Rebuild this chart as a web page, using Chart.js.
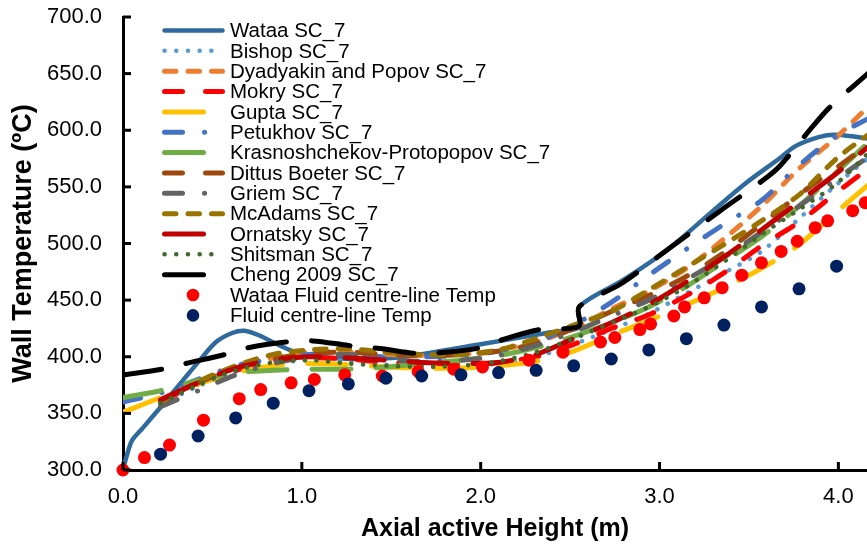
<!DOCTYPE html>
<html>
<head>
<meta charset="utf-8">
<script src="https://cdn.jsdelivr.net/npm/chart.js@4.4.1/dist/chart.umd.min.js"></script>
<style>
  html, body { margin:0; padding:0; background:#fff; }
  #wrap { width:867px; height:551px; }
</style>
</head>
<body>
<div id="wrap"><canvas id="chart" width="867" height="551"></canvas></div>
<script>
// axial nodes (m) used by the correlations
const nodes      = [0, 0.21, 0.42, 0.63, 0.84, 1.04, 1.26, 1.47, 1.67, 1.89, 2.10, 2.31, 2.52, 2.73, 2.94, 3.15, 3.36, 3.57, 3.78, 3.99, 4.20];
const bishop     = [null, 358, 374, 387, 394, 397, 396, 393, 392, 392, 394, 400, 411, 424, 438, 456, 474, 493, 522, 552, 580];
const dyadyakin  = [null, 362, 378, 390, 399, 404, 404, 402, 401, 402, 406, 413, 425, 442, 458, 478, 504, 533, 566, 594, 626];
const mokry      = [null, 360, 376, 388, 396, 399, 398, 395, 393, 393, 395, 400, 411, 425, 437, 454, 474, 498, 519, 545, 570];
const gupta      = [351, 364, 376, 386, 392, 394, 393, 391, 390, 390, 392, 396, 405, 419, 432, 446, 461, 478, 499, 528, 556];
const petukhov   = [360, 368, 380, 392, 398, 402, 402, 400, 400, 401, 405, 413, 428, 448, 472, 495, 517, 538, 569, 595, 613];
const krasno     = [364, 370, 379, 386, 388, 389, 389, 391, 394, 397, 401, 408, 418, 430, 444, 462, 484, 506, 533, 563, 594];
const dittus     = [null, 361, 377, 390, 398, 403, 404, 402, 401, 402, 405, 412, 425, 440, 454, 471, 492, 517, 543, 567, 591];
const griem      = [null, 356, 370, 384, 394, 400, 402, 398, 396, 397, 401, 410, 422, 436, 450, 468, 488, 510, 533, 557, 580];
const mcadams    = [null, 360, 378, 392, 402, 406, 407, 404, 402, 402, 406, 416, 428, 440, 459, 479, 499, 520, 543, 575, 600];
const ornatsky   = [null, 362, 377, 390, 397, 400, 399, 397, 395, 394, 395, 402, 416, 430, 446, 466, 488, 512, 537, 562, 590];
const shitsman   = [null, 359, 375, 388, 395, 397, 394, 392, 391, 392, 396, 404, 416, 430, 444, 462, 484, 508, 530, 553, 585];

// Wataa wall temperature and Cheng 2009 (own x positions, step at 2.55 m)
const wataaX = [0, 0.02, 0.05, 0.11, 0.24, 0.35, 0.43, 0.52, 0.61, 0.68, 0.76, 0.85, 0.95, 1.10, 1.30, 1.50, 1.66, 2.00, 2.37, 2.55, 2.55, 2.80, 3.04, 3.30, 3.48, 3.67, 3.76, 3.89, 3.99, 4.20];
const wataaY = [300, 312, 326, 337, 361, 382, 397, 413, 421, 423, 419, 412, 405, 400, 398, 399, 402, 411, 421, 426, 444, 468, 494, 529, 553, 575, 586, 594, 596, 592];
const chengX = [0, 0.22, 0.35, 0.57, 0.70, 0.91, 1.06, 1.26, 1.45, 1.64, 1.80, 2.00, 2.12, 2.33, 2.55, 2.55, 2.78, 3.04, 3.34, 3.58, 3.67, 3.86, 3.95, 4.20];
const chengY = [384, 389, 394, 402, 408, 413, 414, 410, 407, 403, 404, 408, 415, 424, 427, 444, 464, 494, 529, 556, 568, 604, 620, 655];

// fluid centre-line temperatures
const wataaFluidX = [0, 0.12, 0.26, 0.45, 0.65, 0.77, 0.94, 1.07, 1.24, 1.45, 1.65, 1.85, 2.01, 2.27, 2.46, 2.67, 2.75, 2.89, 2.95, 3.08, 3.14, 3.25, 3.35, 3.46, 3.57, 3.68, 3.77, 3.87, 3.94, 4.08, 4.15];
const wataaFluidY = [300, 311, 322, 344, 363, 371, 377, 380, 384, 383, 387, 389, 391, 397, 404, 413, 417, 424, 429, 436, 444, 452, 461, 472, 483, 493, 502, 514, 520, 529, 536];
const fluidX = [0.21, 0.42, 0.63, 0.84, 1.04, 1.26, 1.47, 1.67, 1.89, 2.10, 2.31, 2.52, 2.73, 2.94, 3.15, 3.36, 3.57, 3.78, 3.99];
const fluidY = [314, 330, 346, 359, 370, 376, 381, 383, 384, 386, 388, 392, 398, 406, 416, 428, 444, 460, 480];

const FONT = '"Liberation Sans", Arial, sans-serif';

const DOT = [0.1, 11.6], DASH = [11.5, 12], LONGGAP = [18, 23], DASHDOT = [18, 22, 0.1, 22], LONG = [39, 25];

function pts(xs, ys) {
  return xs.map((x, i) => ({ x, y: ys[i] })).filter(p => p.y !== null);
}
function lineSet(label, xs, ys, color, dash, width) {
  return {
    label, data: pts(xs, ys), showLine: true,
    borderColor: color, backgroundColor: color,
    borderWidth: width, borderDash: dash, borderCapStyle: 'round', borderJoinStyle: 'round',
    pointRadius: 0, pointHoverRadius: 0, tension: 0.3, fill: false
  };
}
function dotSet(label, xs, ys, color) {
  return {
    label, data: pts(xs, ys), showLine: false,
    backgroundColor: color, borderColor: color, borderWidth: 0,
    pointRadius: 6.5, pointHoverRadius: 6.5, clip: false
  };
}

const datasets = [
  lineSet('Wataa SC_7', wataaX, wataaY, '#2F6A9E', [], 4.5),
  lineSet('Bishop SC_7', nodes, bishop, '#5B9BD5', DOT, 4.5),
  lineSet('Dyadyakin and Popov SC_7', nodes, dyadyakin, '#ED7D31', DASH, 5),
  lineSet('Mokry SC_7', nodes, mokry, '#FF0000', LONGGAP, 5),
  lineSet('Gupta SC_7', nodes, gupta, '#FFC000', LONG, 5),
  lineSet('Petukhov SC_7', nodes, petukhov, '#4472C4', DASHDOT, 5),
  lineSet('Krasnoshchekov-Protopopov SC_7', nodes, krasno, '#70AD47', LONG, 5),
  lineSet('Dittus Boeter SC_7', nodes, dittus, '#9E480E', LONGGAP, 5),
  lineSet('Griem SC_7', nodes, griem, '#636363', DASHDOT, 5),
  lineSet('McAdams SC_7', nodes, mcadams, '#997300', DASH, 5),
  lineSet('Ornatsky SC_7', nodes, ornatsky, '#C00000', LONG, 5),
  lineSet('Shitsman SC_7', nodes, shitsman, '#43682B', DOT, 4.5),
  lineSet('Cheng 2009 SC_7', chengX, chengY, '#000000', LONG, 5),
  dotSet('Wataa Fluid centre-line Temp', wataaFluidX, wataaFluidY, '#FF0000'),
  dotSet('Fluid centre-line Temp', fluidX, fluidY, '#002060')
];
// later series drawn on top
datasets.forEach((d, i) => { d.order = datasets.length - i; });

// legend drawn inside the plot, Excel style
const legendBox = {
  id: 'legendBox',
  afterDraw(chart) {
    const ctx = chart.ctx;
    ctx.save();
    ctx.font = '20.5px ' + FONT;
    ctx.textBaseline = 'middle';
    chart.data.datasets.forEach((ds, i) => {
      const y = 30.5 + i * 20.35;
      if (ds.showLine) {
        ctx.strokeStyle = ds.borderColor;
        ctx.lineWidth = ds.borderWidth;
        ctx.lineCap = 'round';
        ctx.setLineDash(ds.borderDash || []);
        ctx.beginPath(); ctx.moveTo(164.5, y); ctx.lineTo(222.5, y); ctx.stroke();
      } else {
        ctx.setLineDash([]);
        ctx.fillStyle = ds.backgroundColor;
        ctx.beginPath(); ctx.arc(193, y, 6.3, 0, Math.PI * 2); ctx.fill();
      }
      ctx.fillStyle = '#000';
      ctx.fillText(ds.label, 230, y + 1);
    });
    ctx.restore();
  }
};

// tick marks pointing into the plot
const innerTicks = {
  id: 'innerTicks',
  afterDatasetsDraw(chart) {
    const { ctx, chartArea, scales: { x, y } } = chart;
    ctx.save();
    ctx.strokeStyle = '#000'; ctx.lineWidth = 3; ctx.setLineDash([]);
    x.ticks.forEach(t => {
      const px = x.getPixelForValue(t.value);
      ctx.beginPath(); ctx.moveTo(px, chartArea.bottom); ctx.lineTo(px, chartArea.bottom - 8); ctx.stroke();
    });
    y.ticks.forEach(t => {
      const py = y.getPixelForValue(t.value);
      ctx.beginPath(); ctx.moveTo(chartArea.left, py); ctx.lineTo(chartArea.left + 8, py); ctx.stroke();
    });
    ctx.restore();
  }
};

new Chart(document.getElementById('chart'), {
  type: 'scatter',
  data: { datasets },
  options: {
    responsive: false, animation: false, devicePixelRatio: 1,
    layout: { autoPadding: false, padding: { top: 17, right: 0, left: 0, bottom: 0 } },
    plugins: { legend: { display: false }, tooltip: { enabled: false } },
    scales: {
      x: {
        type: 'linear', min: 0, max: 4.16,
        afterFit: s => { s.height = 81; s.paddingLeft = 0; s.paddingRight = 0; },
        grid: { display: false, drawTicks: false },
        border: { display: true, color: '#000', width: 3 },
        ticks: { stepSize: 1, includeBounds: false, autoSkip: false, maxRotation: 0, padding: 14,
                 color: '#000', font: { family: FONT, size: 22 }, callback: v => v.toFixed(1) },
        title: { display: true, text: 'Axial active Height (m)', color: '#000',
                 font: { family: FONT, size: 25, weight: 'bold' }, padding: { top: 0, bottom: 7 } }
      },
      y: {
        type: 'linear', min: 300, max: 700,
        afterFit: s => { s.width = 123; s.paddingTop = 0; s.paddingBottom = 0; },
        grid: { display: false, drawTicks: false },
        border: { display: true, color: '#000', width: 3 },
        ticks: { stepSize: 50, padding: 21, color: '#000', font: { family: FONT, size: 22 },
                 callback: v => v.toFixed(1) },
        title: { display: true, text: 'Wall Temperature (ºC)', color: '#000',
                 font: { family: FONT, size: 27, weight: 'bold' }, padding: { top: 7, bottom: 0 } }
      }
    }
  },
  plugins: [innerTicks, legendBox]
});
</script>
</body>
</html>
